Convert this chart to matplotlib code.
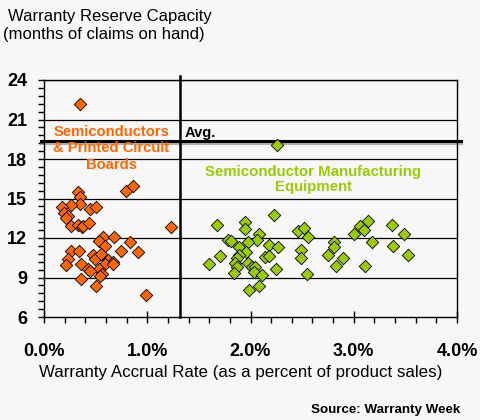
import matplotlib
matplotlib.use('Agg')
import matplotlib.pyplot as plt
import matplotlib.patheffects as pe
from matplotlib.ticker import MultipleLocator, FuncFormatter

# Semiconductors & printed circuit boards (accrual %, months of claims)
semi_x = [0.35, 0.33, 0.35, 0.35, 0.26, 0.17, 0.19, 0.235, 0.21, 0.26,
          0.33, 0.365, 0.38, 0.44, 0.45, 0.50, 0.79, 0.86, 1.23, 0.57,
          0.53, 0.68, 0.59, 0.835, 0.75, 0.91, 0.26, 0.34, 0.235, 0.21,
          0.36, 0.47, 0.49, 0.555, 0.62, 0.665, 0.59, 0.535, 0.43, 0.45,
          0.56, 0.54, 0.36, 0.50, 0.99, 0.67]
semi_y = [22.18, 15.47, 15.14, 14.56, 14.51, 14.33, 13.92, 13.67, 13.50, 12.91,
          12.99, 12.86, 12.94, 13.12, 14.18, 14.36, 15.57, 15.95, 12.86, 12.10,
          11.75, 12.06, 11.42, 11.68, 10.99, 10.96, 11.02, 11.04, 10.41, 9.95,
          10.01, 10.71, 10.41, 10.79, 10.33, 10.16, 10.01, 9.67, 9.65, 9.50,
          9.25, 9.10, 8.87, 8.36, 7.65, 9.99]

# Semiconductor manufacturing equipment
equip_x = [2.26, 2.23, 1.68, 1.95, 1.95, 2.08, 2.06, 1.78, 1.81, 1.98,
           2.18, 2.27, 1.89, 1.96, 1.89, 1.70, 1.87, 2.14, 2.18, 1.60,
           1.85, 1.87, 1.98, 2.01, 2.04, 2.03, 1.84, 2.11, 2.25, 2.08,
           1.99, 2.46, 2.52, 2.56, 2.485, 2.49, 2.55, 2.75, 2.81, 2.81,
           2.83, 2.90, 3.00, 3.06, 3.10, 3.14, 3.18, 3.11, 3.37, 3.38,
           3.49, 3.53]
equip_y = [19.06, 13.73, 12.97, 13.24, 12.69, 12.28, 11.83, 11.85, 11.80, 11.72,
           11.47, 11.30, 11.30, 10.94, 10.71, 10.66, 10.46, 10.58, 10.66, 10.03,
           10.13, 9.78, 10.08, 9.78, 9.82, 9.44, 9.37, 9.17, 9.63, 8.38,
           8.05, 12.53, 12.79, 12.10, 11.09, 10.51, 9.25, 10.71, 11.72, 11.30,
           9.87, 10.46, 12.28, 12.91, 12.61, 13.27, 11.72, 9.90, 12.97, 11.37,
           12.33, 10.74]

avg_x = 1.32
avg_y = 19.4

orange = '#FF6600'
green = '#99CC00'
bg = '#F7F7F7'

plt.rcParams['font.family'] = ['Liberation Sans', 'DejaVu Sans']

fig = plt.figure(figsize=(4.8, 4.2), dpi=100, facecolor=bg)
ax = fig.add_axes([44 / 480, 1 - 317 / 420, 413 / 480, 237 / 420])
ax.set_facecolor(bg)

ax.set_xlim(0, 4)
ax.set_ylim(6, 24)
for y in [9, 12, 15, 18, 21, 24]:
    ax.axhline(y, color='black', lw=0.9, zorder=1)

ax.plot([-0.03, 4.04], [avg_y, avg_y], color='black', lw=2.2, zorder=2,
        clip_on=False,
        path_effects=[pe.SimpleLineShadow(offset=(0, -2), shadow_color='gray', alpha=0.6),
                      pe.Normal()])
ax.plot([avg_x, avg_x], [6, 24.3], color='black', lw=1.8, zorder=2, clip_on=False)

ax.scatter(semi_x, semi_y, marker='D', s=40, color=orange, edgecolor='black',
           linewidth=0.6, zorder=3)
ax.scatter(equip_x, equip_y, marker='D', s=40, color=green, edgecolor='black',
           linewidth=0.6, zorder=3)

ax.text(0.65, 18.81, 'Semiconductors\n& Printed Circuit\nBoards', color=orange,
        fontsize=10.6, fontweight='bold', ha='center', va='center', linespacing=1.22)
ax.text(1.365, 19.67, 'Avg.', color='black', fontsize=10.5, fontweight='bold',
        ha='left', va='baseline')
ax.text(2.61, 16.44, 'Semiconductor Manufacturing\nEquipment', color=green,
        fontsize=10.8, fontweight='bold', ha='center', va='center', linespacing=1.15)

for s in ax.spines.values():
    s.set_color('black')
    s.set_linewidth(1.0)

ax.xaxis.set_major_locator(MultipleLocator(1))
ax.xaxis.set_minor_locator(MultipleLocator(0.2))
ax.yaxis.set_major_locator(MultipleLocator(3))
ax.yaxis.set_minor_locator(MultipleLocator(0.6))
ax.xaxis.set_major_formatter(FuncFormatter(lambda v, p: f'{v:.1f}%'))
ax.tick_params(axis='x', which='major', direction='inout', length=8, width=1, pad=15)
ax.tick_params(axis='x', which='minor', direction='out', length=4, width=1)
ax.tick_params(axis='y', which='both', direction='out', length=4, width=1, pad=8)
for lab in ax.get_xticklabels() + ax.get_yticklabels():
    lab.set_fontweight('bold')
    lab.set_fontsize(13)

fig.text(8 / 480, 1 - 16 / 420, 'Warranty Reserve Capacity', fontsize=12,
         ha='left', va='center')
fig.text(3 / 480, 1 - 35 / 420, '(months of claims on hand)', fontsize=12,
         ha='left', va='center')
fig.text(241 / 480, 1 - 373 / 420, 'Warranty Accrual Rate (as a percent of product sales)',
         fontsize=12.2, ha='center', va='center')
fig.text(460 / 480, 1 - 410 / 420, 'Source: Warranty Week', fontsize=9.6,
         fontweight='bold', ha='right', va='center')

fig.savefig('out.png', dpi=100, facecolor=bg)
